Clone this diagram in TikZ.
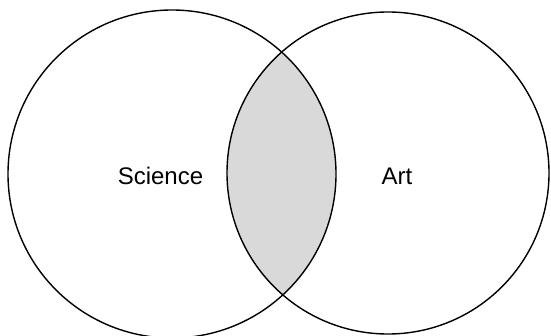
\documentclass[tikz,border=0pt]{standalone}
\usepackage{fontspec}
\setmainfont{Liberation Sans}
\definecolor{lensgray}{HTML}{D9D9D9}
\tikzset{
  setline/.style={draw=black, line width=1.4pt},
  setlabel/.style={font=\fontsize{24}{28}\selectfont, inner sep=0pt}
}
\begin{document}
\begin{tikzpicture}[x=1pt,y=1pt]
\clip (0,0) rectangle (551,335);
\coordinate (cl) at (172,161);
\coordinate (cr) at (388,162);
\begin{scope}
  \clip (cl) circle (164);
  \fill[lensgray] (cr) circle (161);
\end{scope}
\draw[setline] (cl) circle (164);
\draw[setline] (cr) circle (161);
\node[setlabel] (science) at (160.5,159) {Science};
\node[setlabel] (art) at (397,159) {Art};
\end{tikzpicture}
\end{document}
